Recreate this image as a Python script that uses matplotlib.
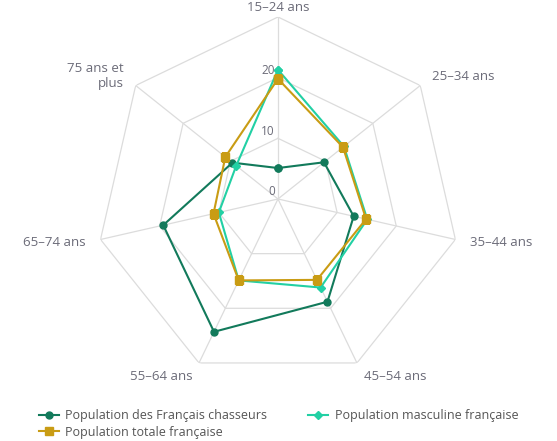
import numpy as np
import matplotlib
matplotlib.use("Agg")
import matplotlib.pyplot as plt
import matplotlib.transforms as mtransforms

plt.rcParams['font.family'] = ['Open Sans', 'DejaVu Sans']

categories = ["15–24 ans", "25–34 ans", "35–44 ans", "45–54 ans",
              "55–64 ans", "65–74 ans", "75 ans et\nplus"]
chasseurs = [5.1, 9.7, 12.8, 18.8, 24.3, 19.4, 9.6]
masculine = [21.3, 13.9, 15.1, 16.2, 14.9, 10.0, 8.8]
totale = [19.8, 13.7, 14.9, 14.8, 14.9, 10.9, 11.1]
radial_ticks = [0, 10, 20, 30]
radial_labels = ["0", "10", "20"]

c_chasseurs = "#127a5b"
c_masculine = "#22d0a4"
c_totale = "#c99c14"
grid_c = "#dcdcdc"
text_c = "#6b6b78"

fig = plt.figure(figsize=(5.57, 4.41), dpi=100)
ax = fig.add_axes([0.1723, 0.1361, 0.6535, 0.8254], projection="polar")
ax.set_theta_zero_location("N")
ax.set_theta_direction(-1)
ax.set_ylim(0, 30)
ax.grid(False)
ax.spines["polar"].set_visible(False)
ax.set_xticks([])
ax.set_yticks([])
ax.patch.set_alpha(0)

n = len(categories)
theta = np.arange(n) * 2 * np.pi / n
theta_closed = np.append(theta, theta[0])

# polygonal grid rings and spokes
for r in radial_ticks[1:]:
    ax.plot(theta_closed, [r] * (n + 1), color=grid_c, lw=0.9, zorder=1)
for t in theta:
    ax.plot([t, t], [0, radial_ticks[-1]], color=grid_c, lw=0.9, zorder=1)

def closed(v):
    return list(v) + [v[0]]

l1, = ax.plot(theta_closed, closed(chasseurs), color=c_chasseurs, lw=1.5,
              marker="o", ms=5, label="Population des Français chasseurs", zorder=3)
l2, = ax.plot(theta_closed, closed(masculine), color=c_masculine, lw=1.5,
              marker="D", ms=4, label="Population masculine française", zorder=4)
l3, = ax.plot(theta_closed, closed(totale), color=c_totale, lw=1.5,
              marker="s", ms=5.5, label="Population totale française", zorder=5)

# radial value labels along the top spoke
off = mtransforms.offset_copy(ax.transData, fig=fig, x=-3, y=7, units="dots")
for val, lab in zip(radial_ticks, radial_labels):
    ax.text(0, val, lab, transform=off, ha="right", va="center",
            fontsize=8.5, color=text_c, zorder=6)

# category labels around the outside
r_lab = 32.5
for t, lab in zip(theta, categories):
    s = np.sin(t)
    if abs(s) < 1e-6:
        ax.text(t, 32.6, lab, ha="center", va="top", fontsize=9.5, color=text_c)
        continue
    ha = "left" if s > 0 else "right"
    ax.text(t, r_lab, lab, ha=ha, va="center", fontsize=9.5, color=text_c,
            multialignment="right", linespacing=1.2)

fig.legend(handles=[l1, l3, l2], loc="lower center", ncol=2,
           bbox_to_anchor=(0.5, -0.02), frameon=False, fontsize=9,
           handlelength=1.6, columnspacing=3.3, labelspacing=0.25,
           handletextpad=0.5, labelcolor="#555555")

fig.savefig("out.png", dpi=100)
